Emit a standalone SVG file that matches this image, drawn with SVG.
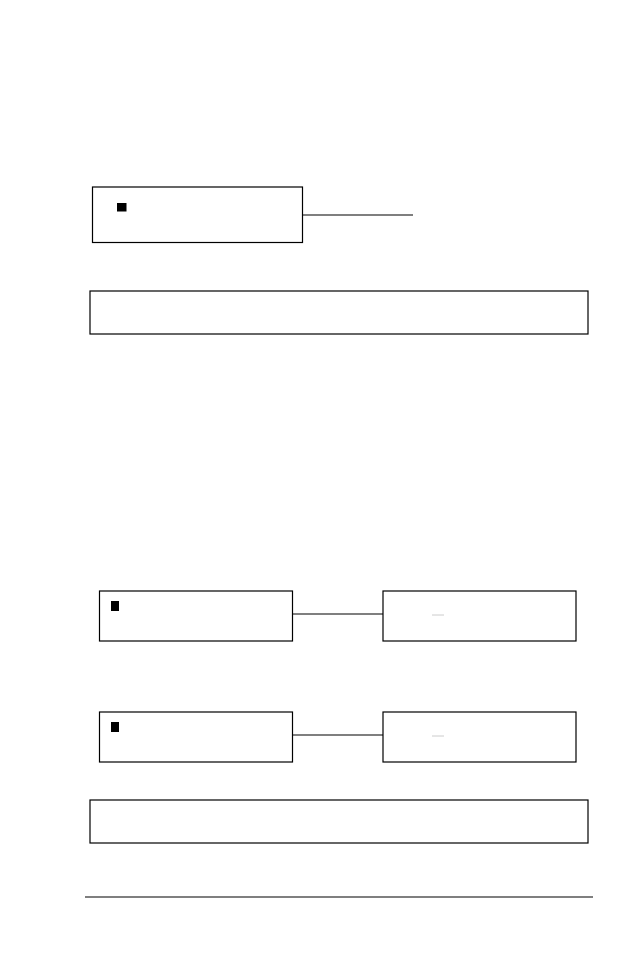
<svg xmlns="http://www.w3.org/2000/svg" width="618" height="954" viewBox="0 0 618 954">
<style>.b{fill:#fff;stroke:#000;stroke-width:1.2}.c{stroke:#000;stroke-width:1.2;fill:none}.g{stroke:#ccc;stroke-width:1}</style>
<rect width="618" height="954" fill="#fff"/>
<g id="n1"><rect class="b" x="92.5" y="187" width="210" height="55.5"/><rect x="117" y="203" width="9.5" height="8.5"/></g>
<g id="n2"><rect class="b" x="90" y="291" width="498" height="43"/></g>
<g id="n3"><rect class="b" x="99.5" y="591" width="193" height="50"/><rect x="111" y="601" width="8" height="10"/></g>
<g id="n4"><rect class="b" x="383" y="591" width="193" height="50"/><line class="g" x1="432" y1="615" x2="444" y2="615"/></g>
<g id="n5"><rect class="b" x="99.5" y="712" width="193" height="50"/><rect x="111" y="722" width="8" height="10"/></g>
<g id="n6"><rect class="b" x="383" y="712" width="193" height="50"/><line class="g" x1="432" y1="736" x2="444" y2="736"/></g>
<g id="n7"><rect class="b" x="90" y="800" width="498" height="43"/></g>
<g id="connectors">
<line class="c" x1="302.5" y1="215" x2="413" y2="215"/>
<line class="c" x1="292.5" y1="614" x2="383" y2="614"/>
<line class="c" x1="292.5" y1="735" x2="383" y2="735"/>
</g>
<line class="c" x1="85" y1="897" x2="593" y2="897"/>
</svg>
